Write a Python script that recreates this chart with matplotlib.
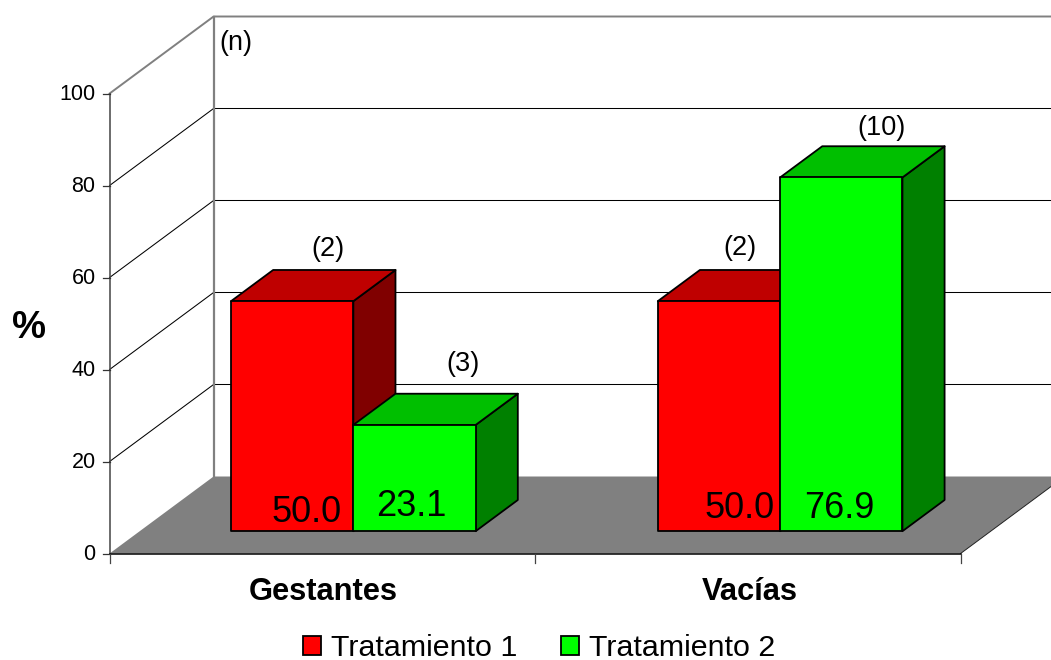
import matplotlib
matplotlib.use("Agg")
import matplotlib.pyplot as plt
from matplotlib.patches import Polygon, Patch

plt.rcParams['font.family'] = ['Liberation Sans', 'DejaVu Sans']

# Chart data
categories = ["Gestantes", "Vacías"]
series_names = ["Tratamiento 1", "Tratamiento 2"]
tratamiento_1 = [50.0, 50.0]
tratamiento_2 = [23.1, 76.9]
counts_1 = ["(2)", "(2)"]
counts_2 = ["(3)", "(10)"]
y_ticks = [0, 20, 40, 60, 80, 100]

# Oblique projection parameters (pixels)
X0, Y0 = 109.6, 553.5      # front-left corner of the floor
CAT_W = 425.5              # width of a category
UNIT_H = 4.6               # height of one percent
DEPTH_X, DEPTH_Y = 104.0, -77.0   # full chart depth
BAR_D0, BAR_D1 = 0.29, 0.695      # bar extent along the depth axis
BAR_W = 0.2875             # bar width in category units
N_CAT = len(categories)


def project(cat, value, depth=0.0):
    """Map (category position, percent, depth fraction) to canvas pixels."""
    return (X0 + cat * CAT_W + depth * DEPTH_X,
            Y0 - value * UNIT_H + depth * DEPTH_Y)


fig = plt.figure(figsize=(10.51, 6.60), dpi=100)
ax = fig.add_axes([0, 0, 1, 1])
ax.set_xlim(0, 1051)
ax.set_ylim(660, 0)
ax.axis("off")

GRAY = "#808080"

# Floor
ax.add_patch(Polygon([project(0, 0), project(N_CAT, 0),
                      project(N_CAT, 0, 1), project(0, 0, 1)],
                     closed=True, fc=GRAY, ec="none", zorder=1))
ax.plot(*zip(project(N_CAT, 0), project(N_CAT, 0, 1)), color="#222222", lw=0.7, zorder=1.5)

# Grid on the side and back walls
for v in y_ticks[1:-1]:
    ax.plot(*zip(project(0, v), project(0, v, 1), project(N_CAT, v, 1)),
            color="black", lw=0.75, zorder=2)
ax.plot(*zip(project(0, 100), project(0, 100, 1), project(N_CAT, 100, 1)),
        color=GRAY, lw=1.4, zorder=2)
ax.plot(*zip(project(0, 0, 1), project(0, 100, 1)), color=GRAY, lw=1.6, zorder=2)

# Axis lines and ticks
ax.plot(*zip(project(0, 0), project(0, 100)), color="#444444", lw=1.1, zorder=3)
ax.plot(*zip(project(0, 0), project(N_CAT, 0)), color="black", lw=1.1, zorder=3)
for v in y_ticks:
    x, y = project(0, v)
    ax.plot([x - 7, x], [y, y], color="#333333", lw=0.9, zorder=3)
    ax.text(x - 14, y + 1.5, str(v), ha="right", va="center", fontsize=15.5, color="black")
for c in range(N_CAT + 1):
    x, y = project(c, 0)
    ax.plot([x, x], [y, y + 9], color="#444444", lw=0.9, zorder=3)

for c, name in enumerate(categories):
    x, y = project(c + 0.5, 0)
    ax.text(x + 1 + c, 592, name, ha="center", va="center", fontsize=22.2, fontweight="bold")

ax.text(29, 328, "%", ha="center", va="center", fontsize=27.5, fontweight="bold")
ax.text(236, 43, "(n)", ha="center", va="center", fontsize=19.5)

FACE = {
    0: ("#FF0000", "#BF0000", "#800000"),
    1: ("#00FF00", "#00BF00", "#008000"),
}
CENTERS = [0.502, 1.505]

# Pixel nudges of the value labels and count labels around each bar
VALUE_OFFSETS = {(0, 0): (14, 512), (0, 1): (-3, 507), (1, 0): (21, 509), (1, 1): (-2, 509)}
COUNT_OFFSETS = {(0, 0): 36, (0, 1): 48, (1, 0): 21, (1, 1): 40}
COUNT_RISE = {(0, 0): 21, (0, 1): 30, (1, 0): 22, (1, 1): 18}

values = [tratamiento_1, tratamiento_2]
counts = [counts_1, counts_2]
z = 4.0
for c in range(N_CAT):
    for s in range(2):
        v = values[s][c]
        left = CENTERS[c] + (s - 1) * BAR_W
        right = left + BAR_W
        front, top, side = FACE[s]
        edge = dict(ec="black", lw=1.3, joinstyle="round")
        ax.add_patch(Polygon([project(right, 0, BAR_D0), project(right, 0, BAR_D1),
                              project(right, v, BAR_D1), project(right, v, BAR_D0)],
                             closed=True, fc=side, zorder=z, **edge))
        ax.add_patch(Polygon([project(left, v, BAR_D0), project(right, v, BAR_D0),
                              project(right, v, BAR_D1), project(left, v, BAR_D1)],
                             closed=True, fc=top, zorder=z, **edge))
        ax.add_patch(Polygon([project(left, 0, BAR_D0), project(right, 0, BAR_D0),
                              project(right, v, BAR_D0), project(left, v, BAR_D0)],
                             closed=True, fc=front, zorder=z + 0.1, **edge))

        cx = project((left + right) / 2, 0, BAR_D0)[0]
        dx, ty = VALUE_OFFSETS[(c, s)]
        ax.text(cx + dx, ty, f"{v:.1f}", ha="center", va="center",
                fontsize=26, zorder=z + 0.2)
        top_y = project(left, v, BAR_D1)[1]
        ax.text(cx + COUNT_OFFSETS[(c, s)], top_y - COUNT_RISE[(c, s)], counts[s][c],
                ha="center", va="center", fontsize=19.5, zorder=z + 0.2)
        z += 1

handles = [Patch(fc=FACE[s][0], ec="black", lw=1.3, label=series_names[s]) for s in range(2)]
ax.legend(handles=handles, ncol=2, loc="center", bbox_to_anchor=(539, 648),
          bbox_transform=ax.transData, frameon=False, fontsize=21.9,
          handlelength=0.6, handleheight=0.6, handletextpad=0.33,
          columnspacing=1.42, borderpad=0, borderaxespad=0)

fig.savefig("out.png", dpi=100)
